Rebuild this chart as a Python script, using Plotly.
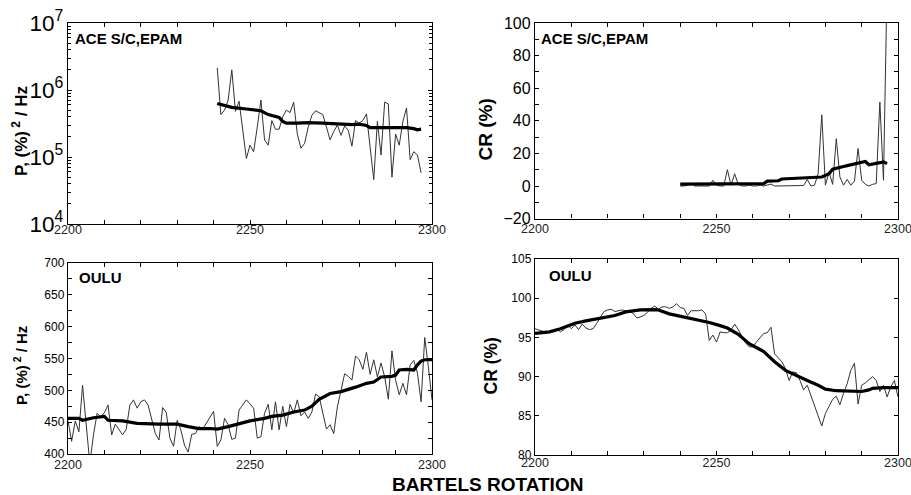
import plotly.graph_objects as go

W, H = 911, 495

# ---------------- data ----------------
# Panel 1: ACE S/C, EPAM power P, (%)^2/Hz (log)
ace_p_rot = list(range(2241, 2298))
ace_p_thin = [2.14e6, 4.3e5, 5.0e5, 7.1e5, 2.0e6, 4.8e5, 6.8e5, 2.5e5, 9.5e4, 1.5e5,
              1.2e5, 2.8e5, 7.1e5, 1.8e5, 1.5e5, 3.5e5, 2.6e5, 2.6e5, 4.0e5, 5.0e5,
              4.6e5, 6.6e5, 2.2e5, 1.35e5, 1.6e5, 2.8e5, 4.2e5, 4.9e5, 4.6e5, 4.3e5,
              2.8e5, 1.8e5, 2.4e5, 3.0e5, 2.1e5, 2.9e5, 2.5e5, 1.45e5, 3.5e5, 3.2e5,
              3.5e5, 4.4e5, 1.4e5, 4.6e4, 3.4e5, 1.07e5, 6.6e5, 6.2e5, 5.0e4, 2.2e5,
              1.5e5, 3.4e5, 5.4e5, 9.1e4, 1.2e5, 1.07e5, 5.8e4]
ace_p_smooth_rot = [2241, 2245, 2249, 2253, 2255, 2257, 2258, 2259, 2260, 2263, 2266, 2270,
                    2272, 2275, 2278, 2280, 2282, 2283, 2286, 2290, 2293, 2295, 2296, 2297]
ace_p_smooth = [6.3e5, 5.5e5, 5.2e5, 4.9e5, 4.3e5, 4.1e5, 3.9e5, 3.4e5, 3.2e5, 3.2e5, 3.25e5, 3.2e5,
                3.15e5, 3.1e5, 3.05e5, 3.1e5, 2.95e5, 2.75e5, 2.75e5, 2.75e5, 2.75e5, 2.65e5, 2.55e5, 2.6e5]

# Panel 2: ACE S/C, EPAM CR (%)
ace_cr_rot = list(range(2240, 2298))
ace_cr_thin = [0, 0, 0.5, 1.8, 0, 0, 0, 0, 0, 3.5,
               0.5, 0, 0, 10, 0.5, 7.5, 1, 0, 0, 0.5,
               0, 0, 0.5, 0, 0.5, 1.2, 0, 0, 0, 0,
               0, 0, 0, 0, 0.3, 4, 0, 0.5, 7.5, 43.7,
               0.5, 8.5, 1, 29, 5.5, 0.5, 4, 0.5, 3, 23,
               3.5, 1, 0, 1, 1.5, 51.5, 3.5, 125]
ace_cr_smooth = [1.2, 1.2, 1.5, 1.6, 1.5, 1.5, 1.4, 1.4, 1.3, 1.3,
                 1.2, 1.2, 1.2, 1.2, 1.2, 1.2, 1.2, 1.3, 1.3, 1.3,
                 1.3, 1.3, 1.3, 1.5, 3.0, 3.0, 2.8, 3.2, 4.3, 4.4,
                 4.5, 4.6, 4.7, 4.8, 5.0, 5.0, 5.1, 5.2, 5.3, 5.5,
                 6.5, 7.5, 10.3, 11.0, 11.5, 12.0, 12.5, 13.0, 13.5, 14.0,
                 14.5, 15.0, 13.0, 13.3, 13.8, 14.3, 14.8, 13.7]

# Panel 3: OULU power P, (%)^2/Hz
oulu_p_rot = [2200, 2201, 2202, 2203, 2204, 2205, 2206, 2207, 2208, 2209,
              2210, 2211, 2212, 2213, 2214, 2215, 2216, 2217, 2218, 2219,
              2220, 2221, 2222, 2224, 2225, 2226, 2227, 2228, 2229, 2230,
              2231, 2232, 2233, 2234, 2235, 2236, 2237, 2238, 2240, 2241,
              2242, 2243, 2244, 2245, 2246, 2247, 2248, 2249, 2251, 2252,
              2253, 2254, 2255, 2256, 2257, 2258, 2259, 2260, 2261, 2262,
              2263, 2264, 2265, 2266, 2267, 2268, 2269, 2271, 2272, 2273,
              2274, 2276, 2277, 2278, 2279, 2280, 2281, 2282, 2283, 2284,
              2285, 2286, 2287, 2288, 2289, 2290, 2291, 2292, 2293, 2294,
              2295, 2296, 2297, 2298, 2299, 2300]
oulu_p_thin = [452, 420, 452, 435, 508, 440, 385, 430, 464, 458,
               465, 477, 430, 447, 438, 430, 439, 477, 485, 472,
               482, 485, 477, 432, 422, 473, 465, 425, 412, 453,
               438, 414, 403, 431, 432, 443, 439, 448, 467, 412,
               422, 456, 446, 423, 425, 469, 477, 485, 472, 425,
               427, 464, 478, 438, 482, 438, 475, 443, 478, 464,
               485, 460, 466, 456, 466, 494, 490, 439, 446, 432,
               474, 526, 522, 516, 554, 548, 533, 560, 525, 548,
               521, 543, 521, 486, 562, 516, 493, 511, 493, 540,
               547, 527, 482, 583, 537, 485]
oulu_p_smooth_rot = [2200, 2203, 2204, 2207, 2210, 2211, 2215, 2219, 2225, 2230, 2233, 2236,
                     2239, 2241, 2244, 2247, 2250, 2254, 2256, 2259, 2262, 2265, 2267, 2269,
                     2272, 2275, 2277, 2279, 2282, 2284, 2286, 2289, 2290, 2291, 2293, 2295,
                     2296, 2297, 2298, 2300]
oulu_p_smooth = [456, 456, 453, 457, 459, 453, 452, 448, 447, 447, 443, 440,
                 440, 439, 443, 447, 452, 456, 459, 461, 466, 469, 475, 486,
                 495, 498, 501, 505, 511, 513, 521, 522, 524, 532, 533, 532,
                 540, 546, 548, 548]

# Panel 4: OULU CR (%)
oulu_cr_rot = list(range(2200, 2301))
oulu_cr_thin = [96.1, 95.9, 95.8, 95.7, 95.6, 95.7, 96.1, 95.7, 96.0, 96.6,
                96.1, 96.6, 96.0, 96.7, 96.2, 96.0, 96.1, 96.8, 97.6, 98.3,
                98.5, 98.6, 98.3, 98.4, 98.5, 98.4, 98.3, 98.1, 97.5, 97.6,
                97.8, 98.2, 98.7, 99.0, 98.6, 98.9, 98.9, 98.7, 98.9, 99.3,
                98.8, 98.7, 97.8, 98.4, 98.4, 98.4, 98.5, 98.0, 94.6, 95.3,
                94.4, 95.7, 95.6, 95.6, 95.9, 96.7, 96.0, 95.1, 94.3, 93.8,
                93.8, 94.4, 94.9, 95.5, 95.6, 96.3, 92.9, 92.4, 91.9, 91.0,
                89.5, 90.6, 90.5, 89.5, 88.3, 88.9, 87.5, 86.2, 85.0, 83.7,
                85.3, 86.2, 87.1, 87.5, 86.4, 87.9, 89.1, 90.8, 91.7, 86.5,
                88.9, 89.2, 89.6, 90.0, 89.5, 88.1, 88.9, 87.4, 88.7, 89.5,
                87.4]
oulu_cr_smooth_rot = [2200, 2204, 2207, 2211, 2214, 2218, 2222, 2225, 2229, 2233, 2234,
                      2237, 2241, 2244, 2248, 2251, 2253, 2256, 2259, 2263, 2266,
                      2269, 2272, 2275, 2278, 2280, 2283, 2287, 2290, 2292, 2293,
                      2296, 2300]
oulu_cr_smooth = [95.5, 95.7, 96.1, 96.8, 97.1, 97.4, 97.8, 98.25, 98.5, 98.55, 98.5,
                  98.0, 97.6, 97.4, 96.9, 96.5, 96.2, 95.4, 94.2, 93.2, 91.9,
                  90.8, 90.1, 89.5, 88.9, 88.4, 88.2, 88.1, 88.1, 88.3, 88.5,
                  88.6, 88.6]

x_tick_vals = [2200, 2250, 2300]
y1_range = [4, 7]
y2_ticks = [-20, 0, 20, 40, 60, 80, 100]
y3_ticks = [400, 450, 500, 550, 600, 650, 700]
y4_ticks = [80, 85, 90, 95, 100, 105]

FONT = "Liberation Sans, Arial, Helvetica, sans-serif"

def px_x(p):
    return p / W

def px_y(p):
    return 1 - p / H

# panel pixel boxes: (left, right, top, bottom), and x tick-label standoff
boxes = {
    1: (68, 432, 23, 224),
    2: (535, 898, 23, 218.6),
    3: (68, 432, 263, 454),
    4: (535, 898, 259, 455),
}
x_standoff = {1: -6, 2: -2, 3: -1, 4: -4}

fig = go.Figure()

thin = dict(color="#333333", width=1)
thick = dict(color="black", width=3.2)

def add(xs, ys, n, line):
    fig.add_trace(go.Scatter(x=xs, y=ys, mode="lines", line=line,
                             xaxis="x" if n == 1 else f"x{n}",
                             yaxis="y" if n == 1 else f"y{n}",
                             showlegend=False, hoverinfo="skip"))

add(ace_p_rot, ace_p_thin, 1, thin)
add(ace_p_smooth_rot, ace_p_smooth, 1, thick)
add(ace_cr_rot, ace_cr_thin, 2, thin)
add(ace_cr_rot, ace_cr_smooth, 2, thick)
add(oulu_p_rot, oulu_p_thin, 3, thin)
add(oulu_p_smooth_rot, oulu_p_smooth, 3, thick)
add(oulu_cr_rot, oulu_cr_thin, 4, thin)
add(oulu_cr_smooth_rot, oulu_cr_smooth, 4, thick)

axis_common = dict(showline=True, linecolor="black", linewidth=1.4, mirror="ticks",
                   ticks="inside", ticklen=4, tickcolor="black", tickwidth=1,
                   showgrid=False, zeroline=False, automargin=False)

layout = dict(width=W, height=H, margin=dict(l=0, r=0, t=0, b=0, pad=0), autosize=False,
              paper_bgcolor="white", plot_bgcolor="white", showlegend=False,
              font=dict(family=FONT, color="black"))

for n, (l, r, t, b) in boxes.items():
    xk = "xaxis" if n == 1 else f"xaxis{n}"
    yk = "yaxis" if n == 1 else f"yaxis{n}"
    ya = "y" if n == 1 else f"y{n}"
    xa = "x" if n == 1 else f"x{n}"
    layout[xk] = dict(axis_common, domain=[px_x(l), px_x(r)], anchor=ya,
                      range=[2200, 2300], tickvals=x_tick_vals,
                      tickfont=dict(size=12.5, color="#222"),
                      ticklabeloverflow="allow", ticklabelstandoff=x_standoff[n],
                      minor=dict(dtick=10, tick0=2200, ticks="inside", ticklen=4,
                                 tickcolor="black", showgrid=False))
    layout[yk] = dict(axis_common, domain=[px_y(b), px_y(t)], anchor=xa)

layout["yaxis"].update(type="log", range=y1_range, dtick=1, exponentformat="power",
                       tickfont=dict(size=18),
                       minor=dict(dtick="D1", ticks="inside", ticklen=3, tickcolor="black"))
layout["yaxis2"].update(range=[-20, 100], tickvals=y2_ticks, tickfont=dict(size=16),
                        minor=dict(dtick=10, tick0=0, ticks="inside", ticklen=4, tickcolor="black"))
layout["yaxis3"].update(range=[400, 700], tickvals=y3_ticks, tickfont=dict(size=12),
                        minor=dict(dtick=25, tick0=400, ticks="inside", ticklen=4, tickcolor="black"))
layout["yaxis4"].update(range=[80, 105], tickvals=y4_ticks, tickfont=dict(size=12))

fig.update_layout(**layout)

ann = []
def text(s, x, y, size, xanchor="left", yanchor="middle", angle=0):
    ann.append(dict(text=s, x=px_x(x), y=px_y(y), xref="paper", yref="paper",
                    showarrow=False, xanchor=xanchor, yanchor=yanchor, textangle=angle,
                    font=dict(family=FONT, size=size, color="black")))

text("<b>ACE S/C,EPAM</b>", 73, 38, 15)
text("<b>ACE S/C,EPAM</b>", 539, 38, 15)
text("<b>OULU</b>", 77, 277.5, 15)
text("<b>OULU</b>", 547, 275, 15)
text("<b>P, (%)<sup> 2</sup> / Hz</b>", 20, 131, 17, xanchor="center", angle=-90)
text("<b>P, (%)<sup> 2</sup> / Hz</b>", 20, 366, 15, xanchor="center", angle=-90)
text("<b>CR (%)</b>", 485, 129.5, 19, xanchor="center", angle=-90)
text("<b>CR (%)</b>", 490, 366.5, 17.5, xanchor="center", angle=-90)
text("<b>BARTELS ROTATION</b>", 488, 484, 19, xanchor="center")

fig.update_layout(annotations=ann)
fig.write_html("out.html", config={"displayModeBar": False})

# remove the default page margin so the figure sits at the window's top-left corner
with open("out.html", "r", encoding="utf-8") as f:
    html = f.read()
html = html.replace("<body>", '<body style="margin:0;padding:0;overflow:hidden">', 1)
with open("out.html", "w", encoding="utf-8") as f:
    f.write(html)
